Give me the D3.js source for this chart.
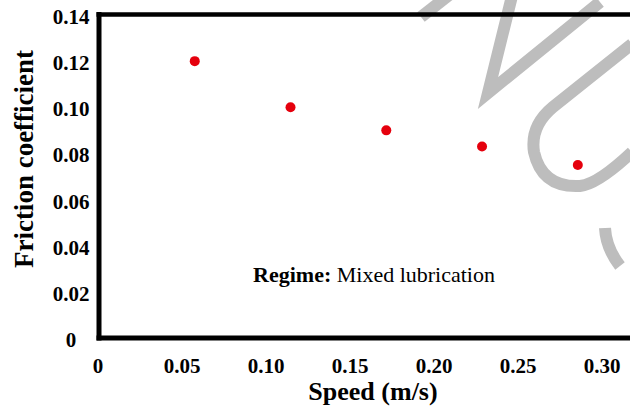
<!DOCTYPE html>
<html>
<head>
<meta charset="utf-8">
<script src="https://cdn.jsdelivr.net/npm/d3@7"></script>
<style>
  body { margin: 0; background: #fff; }
  text { font-family: "Liberation Serif", "Times New Roman", serif; }
</style>
</head>
<body>
<svg id="chart"></svg>
<script>
// data
let speeds = [0.057, 0.114, 0.171, 0.228, 0.285];
let friction = [0.120, 0.100, 0.090, 0.083, 0.075];
let xTicks = [0, 0.05, 0.10, 0.15, 0.20, 0.25, 0.30];
let xTickLabels = ['0', '0.05', '0.10', '0.15', '0.20', '0.25', '0.30'];
let yTicks = [0, 0.02, 0.04, 0.06, 0.08, 0.10, 0.12, 0.14];
let yTickLabels = ['0', '0.02', '0.04', '0.06', '0.08', '0.10', '0.12', '0.14'];

let width = 630, height = 407;

let svg = d3.select('#chart')
    .attr('width', width)
    .attr('height', height);

svg.append('rect')
    .attr('width', width)
    .attr('height', height)
    .attr('fill', '#fff');

let xScale = d3.scaleLinear().domain([0, 0.30]).range([99, 603]);
let yScale = d3.scaleLinear().domain([0, 0.14]).range([338, 15]);

// watermark strokes (decoration behind the plot)
let wm = svg.append('g')
    .attr('fill', 'none')
    .attr('stroke', '#bdbdbd')
    .attr('stroke-width', 12);
wm.append('path').attr('d', 'M421,17 L458,-12');
wm.append('path').attr('d', 'M512,-4 L488,93 L600,2');
wm.append('path').attr('d', 'M632,44 L553,107 Q530,126 534,152 Q542,188 580,186 Q598,184 632,152');
wm.append('path').attr('d', 'M605,228 Q606,248 620,266');

// frame: left, top and bottom lines, right side runs off the picture
svg.append('line')
    .attr('x1', xScale(0)).attr('x2', xScale(0))
    .attr('y1', yScale(0.14) - 3).attr('y2', yScale(0) + 2.5)
    .attr('stroke', '#000').attr('stroke-width', 5);
svg.append('line')
    .attr('x1', xScale(0) - 2.5).attr('x2', width)
    .attr('y1', yScale(0.14) - 0.5).attr('y2', yScale(0.14) - 0.5)
    .attr('stroke', '#000').attr('stroke-width', 4.5);
svg.append('line')
    .attr('x1', xScale(0) - 2.5).attr('x2', width)
    .attr('y1', yScale(0)).attr('y2', yScale(0))
    .attr('stroke', '#000').attr('stroke-width', 5);

// tick labels (no tick marks in the original)
svg.append('g').selectAll('text')
    .data(yTicks)
    .enter()
    .append('text')
    .attr('x', 71)
    .attr('y', function (d) { return yScale(d) + 9; })
    .attr('text-anchor', 'middle')
    .attr('font-size', 21)
    .attr('font-weight', 'bold')
    .text(function (d, i) { return yTickLabels[i]; });

svg.append('g').selectAll('text')
    .data(xTicks)
    .enter()
    .append('text')
    .attr('x', function (d) { return xScale(d) - 1; })
    .attr('y', 373)
    .attr('text-anchor', 'middle')
    .attr('font-size', 21)
    .attr('font-weight', 'bold')
    .text(function (d, i) { return xTickLabels[i]; });

// axis titles
svg.append('text')
    .attr('transform', 'translate(33,159) rotate(-90)')
    .attr('text-anchor', 'middle')
    .attr('font-size', 27)
    .attr('font-weight', 'bold')
    .text('Friction coefficient');

svg.append('text')
    .attr('x', 373)
    .attr('y', 400)
    .attr('text-anchor', 'middle')
    .attr('font-size', 26)
    .attr('font-weight', 'bold')
    .text('Speed (m/s)');

// annotation
let note = svg.append('text')
    .attr('x', xScale(0.0917))
    .attr('y', yScale(0.0243))
    .attr('font-size', 22);
note.append('tspan').attr('font-weight', 'bold').text('Regime:');
note.append('tspan').text(' Mixed lubrication');

// points
svg.append('g').selectAll('circle')
    .data(speeds)
    .enter()
    .append('circle')
    .attr('cx', function (d) { return xScale(d); })
    .attr('cy', function (d, i) { return yScale(friction[i]); })
    .attr('r', 5)
    .attr('fill', '#e5000d');
</script>
</body>
</html>
